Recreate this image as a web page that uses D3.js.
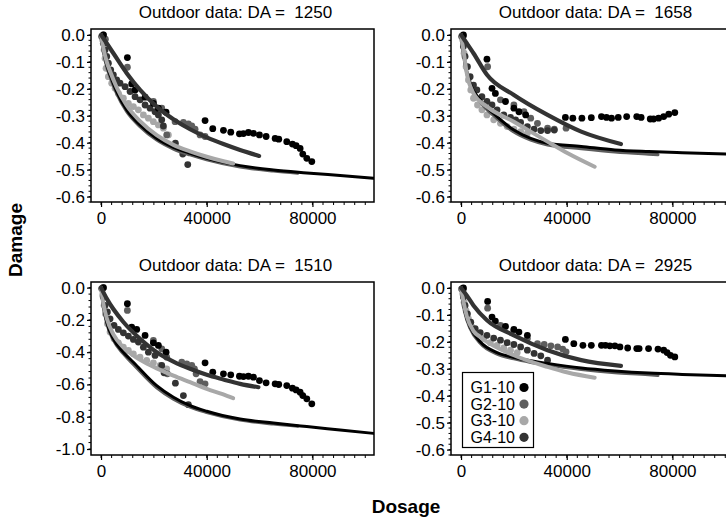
<!DOCTYPE html>
<html><head><meta charset="utf-8">
<script src="https://cdn.jsdelivr.net/npm/d3@7"></script>
<style>
html,body{margin:0;padding:0;background:#fff;}
svg{display:block;font-family:"Liberation Sans",Arial,Helvetica,sans-serif;}
</style></head>
<body>
<svg id="chart" width="726" height="520"></svg>
<script>
// ---------- DATA ----------
const panelDA = ["1250", "1658", "1510", "2925"];
const groups = ["G1-10", "G2-10", "G3-10", "G4-10"];
const groupColors = ["#000000", "#5e5e5e", "#a8a8a8", "#333333"];
const xTickLabels = [0, 40000, 80000];
const yTicksTop = [0.0, -0.1, -0.2, -0.3, -0.4, -0.5, -0.6];
const yTicks1510 = [0.0, -0.2, -0.4, -0.6, -0.8, -1.0];

// ----- DA = 1250 -----
const g1Pts1250 = [[900,0],[9970,-0.084],[11600,-0.182],[12900,-0.204],[16660,-0.231],[19810,-0.254],[21700,-0.272],[24610,-0.287],[39370,-0.318],[42280,-0.348],[46320,-0.354],[49090,-0.361],[52370,-0.367],[53890,-0.366],[55780,-0.362],[57670,-0.365],[59950,-0.371],[62470,-0.377],[65880,-0.384],[67260,-0.387],[70290,-0.396],[72440,-0.405],[73830,-0.411],[75340,-0.421],[76350,-0.442],[77870,-0.458],[79760,-0.470]];
const g2Pts1250 = [[900,0],[1640,-0.016],[9970,-0.12],[19810,-0.247],[22970,-0.272],[28020,-0.322],[31170,-0.325],[33060,-0.33],[34330,-0.338],[35590,-0.35],[37480,-0.371],[39370,-0.377],[24860,-0.371]];
const g3Pts1250 = [[630,-0.019],[1140,-0.056],[1510,-0.087],[1890,-0.124],[2780,-0.155],[4040,-0.179],[5300,-0.198],[6560,-0.217],[8450,-0.235],[10350,-0.254],[12240,-0.266],[14130,-0.278],[16030,-0.297],[17920,-0.309],[19810,-0.322],[21710,-0.334],[23600,-0.346],[25490,-0.371]];
const g4Pts1250 = [[250,-0.006],[880,-0.031],[1510,-0.056],[2150,-0.08],[2780,-0.105],[3660,-0.13],[4670,-0.148],[5930,-0.167],[7190,-0.179],[9090,-0.192],[10980,-0.21],[12870,-0.229],[14760,-0.241],[16660,-0.26],[18550,-0.272],[20440,-0.285],[21710,-0.297],[22970,-0.315],[23600,-0.338],[28140,-0.402],[30920,-0.442],[32810,-0.481]];
const g1Fit1250 = [[0,0],[880,-0.056],[2150,-0.111],[3410,-0.148],[5930,-0.21],[9720,-0.278],[14760,-0.334],[21070,-0.384],[27390,-0.417],[33690,-0.439],[40000,-0.458],[52620,-0.485],[65240,-0.501],[77860,-0.512],[90480,-0.522],[103100,-0.532]];
const g2Fit1250 = [[0,0],[880,-0.06],[2150,-0.118],[3410,-0.155],[5930,-0.218],[9720,-0.285],[14760,-0.34],[21070,-0.39],[27390,-0.423],[33690,-0.445],[40000,-0.463],[52620,-0.49],[65240,-0.505],[74500,-0.513]];
const g3Fit1250 = [[0,0],[880,-0.05],[2150,-0.1],[3410,-0.135],[5930,-0.195],[9720,-0.262],[14760,-0.32],[21070,-0.372],[27390,-0.408],[33690,-0.432],[40000,-0.452],[46000,-0.468],[50000,-0.477]];
const g4Fit1250 = [[0,0],[2150,-0.031],[4670,-0.068],[9720,-0.142],[14760,-0.204],[21070,-0.266],[27390,-0.313],[33690,-0.35],[40000,-0.38],[46310,-0.405],[52620,-0.427],[59820,-0.449]];

// ----- DA = 1658 -----
const g1Pts1658 = [[890,0],[9810,-0.09],[11720,-0.198],[12990,-0.217],[16820,-0.247],[20000,-0.272],[21910,-0.285],[24460,-0.297],[39490,-0.306],[42300,-0.309],[45740,-0.309],[49300,-0.307],[53130,-0.303],[55040,-0.306],[56950,-0.309],[59500,-0.306],[62680,-0.303],[66500,-0.303],[68160,-0.306],[71600,-0.312],[72870,-0.312],[74780,-0.309],[76690,-0.303],[78600,-0.294],[80900,-0.288]];
const g2Pts1658 = [[890,-0.004],[10060,-0.118],[14910,-0.241],[20000,-0.26],[23820,-0.285],[26370,-0.309],[28920,-0.328],[32740,-0.346],[35290,-0.35],[39750,-0.346]];
const g3Pts1658 = [[640,-0.019],[1150,-0.068],[1910,-0.118],[2800,-0.167],[3690,-0.204],[4710,-0.235],[6240,-0.26],[7900,-0.278],[9810,-0.297],[12360,-0.315],[14910,-0.328],[17450,-0.34],[20000,-0.35],[22550,-0.359],[25100,-0.365]];
const g4Pts1658 = [[250,-0.006],[890,-0.043],[1530,-0.08],[2420,-0.118],[3440,-0.155],[4710,-0.186],[5990,-0.204],[7900,-0.229],[9810,-0.247],[11720,-0.26],[13630,-0.278],[16180,-0.297],[18730,-0.306],[20640,-0.315],[22550,-0.325],[25100,-0.34],[27650,-0.35],[30190,-0.355],[32740,-0.355],[35290,-0.353]];
const g1Fit1658 = [[0,0],[640,-0.043],[1530,-0.105],[3440,-0.179],[7260,-0.241],[13630,-0.303],[20000,-0.353],[26370,-0.384],[32740,-0.402],[45480,-0.414],[58220,-0.427],[70960,-0.433],[83700,-0.437],[101500,-0.442]];
const g2Fit1658 = [[0,0],[640,-0.048],[1530,-0.11],[3440,-0.185],[7260,-0.248],[13630,-0.31],[20000,-0.36],[26370,-0.39],[32740,-0.408],[45480,-0.422],[58220,-0.434],[70960,-0.442],[74500,-0.444]];
const g3Fit1658 = [[0,0],[890,-0.056],[2170,-0.142],[4710,-0.217],[9810,-0.266],[20000,-0.322],[32740,-0.396],[40380,-0.439],[50570,-0.489]];
const g4Fit1658 = [[0,0],[2170,-0.031],[4710,-0.068],[9810,-0.148],[20000,-0.223],[32740,-0.297],[45480,-0.359],[60520,-0.405]];

// ----- DA = 1510 -----
const g1Pts1510 = [[880,0],[9970,-0.099],[11610,-0.244],[13500,-0.259],[16660,-0.296],[19810,-0.342],[21710,-0.358],[24610,-0.4],[39370,-0.466],[42280,-0.524],[46320,-0.534],[49090,-0.54],[52370,-0.549],[53890,-0.551],[55780,-0.549],[57670,-0.555],[59950,-0.576],[62470,-0.59],[65880,-0.596],[67260,-0.6],[70290,-0.607],[72440,-0.623],[73830,-0.634],[75340,-0.648],[76350,-0.669],[77870,-0.689],[79760,-0.72]];
const g2Pts1510 = [[880,0],[9970,-0.141],[19810,-0.327],[22970,-0.379],[24860,-0.431],[25110,-0.534],[30540,-0.462],[32430,-0.472],[34330,-0.482],[35340,-0.503],[35970,-0.534],[37480,-0.582],[39370,-0.596]];
const g3Pts1510 = [[630,-0.048],[1140,-0.11],[1640,-0.161],[2400,-0.224],[3410,-0.275],[4920,-0.317],[6560,-0.342],[8450,-0.369],[10350,-0.389],[12240,-0.41],[14760,-0.431],[17290,-0.451],[19810,-0.466],[22340,-0.482],[24860,-0.503]];
const g4Pts1510 = [[250,-0.006],[880,-0.058],[1510,-0.11],[2400,-0.151],[3410,-0.193],[4920,-0.234],[6560,-0.259],[8450,-0.28],[10350,-0.3],[12240,-0.321],[14130,-0.337],[16030,-0.369],[17920,-0.4],[20440,-0.42],[22970,-0.482],[23850,-0.528],[28140,-0.592],[31170,-0.669],[33060,-0.725]];
const g1Fit1510 = [[0,0],[880,-0.11],[2150,-0.213],[4670,-0.317],[8450,-0.4],[12240,-0.462],[21070,-0.607],[27390,-0.679],[33690,-0.731],[40000,-0.766],[52620,-0.814],[65240,-0.839],[77860,-0.861],[90480,-0.882],[103100,-0.903]];
const g2Fit1510 = [[0,0],[880,-0.115],[2150,-0.22],[4670,-0.325],[8450,-0.41],[12240,-0.475],[21070,-0.62],[27390,-0.69],[33690,-0.74],[40000,-0.773],[52620,-0.82],[65240,-0.845],[74500,-0.858]];
const g3Fit1510 = [[0,0],[880,-0.1],[2150,-0.19],[4670,-0.29],[8450,-0.37],[12240,-0.42],[17290,-0.47],[21070,-0.5],[27390,-0.545],[33690,-0.586],[40000,-0.627],[46000,-0.66],[50000,-0.685]];
const g4Fit1510 = [[0,0],[2150,-0.068],[8450,-0.213],[14760,-0.317],[21070,-0.4],[27390,-0.458],[33690,-0.503],[40000,-0.54],[46310,-0.569],[52620,-0.596],[59560,-0.617]];

// ----- DA = 2925 -----
const g1Pts2925 = [[890,0],[10060,-0.05],[11720,-0.108],[12990,-0.123],[16820,-0.143],[20000,-0.154],[21910,-0.164],[25100,-0.176],[39490,-0.191],[42680,-0.207],[46120,-0.213],[49300,-0.213],[53130,-0.213],[54650,-0.213],[56310,-0.215],[58220,-0.215],[60130,-0.219],[63060,-0.223],[66500,-0.225],[67390,-0.225],[70960,-0.225],[74530,-0.227],[76690,-0.231],[77970,-0.24],[79240,-0.25],[80900,-0.256]];
const g2Pts2925 = [[890,-0.004],[10060,-0.075],[14910,-0.139],[20000,-0.157],[25100,-0.188],[28920,-0.207],[31470,-0.21],[34010,-0.215],[36560,-0.219],[38470,-0.227],[39750,-0.237]];
const g3Pts2925 = [[640,-0.022],[1150,-0.053],[1910,-0.084],[2800,-0.114],[4080,-0.145],[5990,-0.17],[8540,-0.188],[11080,-0.203],[13630,-0.213],[16180,-0.223],[18730,-0.231],[21270,-0.24]];
const g4Pts2925 = [[250,-0.004],[890,-0.034],[1530,-0.065],[2420,-0.096],[3690,-0.127],[5350,-0.151],[7260,-0.166],[9810,-0.176],[12360,-0.186],[14910,-0.194],[17450,-0.203],[20000,-0.21],[22550,-0.219],[25100,-0.231],[27650,-0.243],[30190,-0.252],[32740,-0.268]];
const g1Fit2925 = [[0,0],[640,-0.045],[1530,-0.09],[3440,-0.145],[7260,-0.2],[13630,-0.24],[20000,-0.258],[26370,-0.27],[32740,-0.28],[45480,-0.297],[58220,-0.308],[70960,-0.316],[83700,-0.321],[101500,-0.326]];
const g2Fit2925 = [[0,0],[640,-0.048],[1530,-0.095],[3440,-0.15],[7260,-0.205],[13630,-0.245],[20000,-0.263],[26370,-0.276],[32740,-0.286],[45480,-0.302],[58220,-0.314],[70960,-0.322],[74500,-0.325]];
const g3Fit2925 = [[0,0],[890,-0.05],[2170,-0.105],[4710,-0.16],[7260,-0.182],[20000,-0.25],[32740,-0.293],[40380,-0.314],[50570,-0.333]];
const g4Fit2925 = [[0,0],[2170,-0.028],[4710,-0.065],[9810,-0.12],[20000,-0.176],[32740,-0.231],[45480,-0.268],[60520,-0.289]];

const pointsByPanel = {
  "1250": [g1Pts1250, g2Pts1250, g3Pts1250, g4Pts1250],
  "1658": [g1Pts1658, g2Pts1658, g3Pts1658, g4Pts1658],
  "1510": [g1Pts1510, g2Pts1510, g3Pts1510, g4Pts1510],
  "2925": [g1Pts2925, g2Pts2925, g3Pts2925, g4Pts2925]
};
const fitsByPanel = {
  "1250": [g1Fit1250, g2Fit1250, g3Fit1250, g4Fit1250],
  "1658": [g1Fit1658, g2Fit1658, g3Fit1658, g4Fit1658],
  "1510": [g1Fit1510, g2Fit1510, g3Fit1510, g4Fit1510],
  "2925": [g1Fit2925, g2Fit2925, g3Fit2925, g4Fit2925]
};

// ---------- LAYOUT ----------
const svg = d3.select("#chart");
const boxW = 283, boxH = 173;
const layout = {
  "1250": {left: 91,  top: 29,  yDomain: [-0.62, 0.022], ticks: yTicksTop,  minorStep: 0.02},
  "1658": {left: 451, top: 29,  yDomain: [-0.62, 0.022], ticks: yTicksTop,  minorStep: 0.02},
  "1510": {left: 91,  top: 282, yDomain: [-1.037, 0.035], ticks: yTicks1510, minorStep: 0.04},
  "2925": {left: 451, top: 282, yDomain: [-0.62, 0.022], ticks: yTicksTop,  minorStep: 0.02}
};
const xDomain = [-3800, 103300];

// draw order of groups: light, medium, dark, black
const ptOrder = [2, 1, 3, 0];
const fitOrder = [1, 0, 2, 3];
const fitWidth = [3, 3.2, 4, 4.2];

panelDA.forEach((da, pi) => {
  const L = layout[da];
  const g = svg.append("g").attr("transform", `translate(${L.left},${L.top})`);
  const x = d3.scaleLinear().domain(xDomain).range([0, boxW]);
  const y = d3.scaleLinear().domain(L.yDomain).range([boxH, 0]);

  const clipId = "clip" + pi;
  g.append("clipPath").attr("id", clipId).append("rect")
    .attr("x", 0).attr("y", 0).attr("width", boxW).attr("height", boxH);

  const plot = g.append("g").attr("clip-path", `url(#${clipId})`);

  // points
  ptOrder.forEach(gi => {
    plot.append("g").selectAll("circle").data(pointsByPanel[da][gi]).join("circle")
      .attr("cx", d => x(d[0])).attr("cy", d => y(d[1])).attr("r", 3.4)
      .attr("fill", groupColors[gi]);
  });
  // fitted curves
  const line = d3.line().x(d => x(d[0])).y(d => y(d[1])).curve(d3.curveMonotoneX);
  fitOrder.forEach(gi => {
    plot.append("path").datum(fitsByPanel[da][gi]).attr("d", line)
      .attr("fill", "none").attr("stroke", groupColors[gi])
      .attr("stroke-width", fitWidth[gi]).attr("stroke-linecap", "round");
  });

  // box
  g.append("rect").attr("x", 0).attr("y", 0).attr("width", boxW).attr("height", boxH)
    .attr("fill", "none").attr("stroke", "#000").attr("stroke-width", 1.5);

  // y axis
  const yAxis = d3.axisLeft(y).tickValues(L.ticks).tickFormat(d3.format(".1f")).tickSize(4).tickPadding(2);
  const ya = g.append("g").call(yAxis);
  ya.select(".domain").remove();
  ya.selectAll("text").attr("font-size", 17).attr("fill", "#000")
    .text(d => d3.format(".1f")(d).replace("−", "-"));
  ya.selectAll("line").attr("stroke-width", 1.2);
  const yMinor = d3.range(Math.round(L.yDomain[0] / L.minorStep), 1).map(k => k * L.minorStep)
    .filter(v => v >= L.yDomain[0]);
  g.append("g").selectAll("line").data(yMinor).join("line")
    .attr("x1", -2.5).attr("x2", 0).attr("y1", d => y(d)).attr("y2", d => y(d))
    .attr("stroke", "#000").attr("stroke-width", 1);

  // x axis
  const xa = g.append("g").attr("transform", `translate(0,${boxH})`)
    .call(d3.axisBottom(x).tickValues(xTickLabels).tickFormat(d3.format("d")).tickSize(5).tickPadding(5));
  xa.select(".domain").remove();
  xa.selectAll("text").attr("font-size", 17).attr("fill", "#000");
  xa.selectAll("line").attr("stroke-width", 1.2);
  const xMinor = d3.range(0, 104000, 4000);
  g.append("g").selectAll("line").data(xMinor).join("line")
    .attr("x1", d => x(d)).attr("x2", d => x(d)).attr("y1", boxH).attr("y2", boxH + 3)
    .attr("stroke", "#000").attr("stroke-width", 1);

  // title
  g.append("text").attr("x", boxW / 2 + 3).attr("y", -11)
    .attr("text-anchor", "middle").attr("font-size", 17).attr("fill", "#000")
    .style("white-space", "pre")
    .text("Outdoor data: DA =  " + da);

  // legend in last panel
  if (da === "2925") {
    const lg = g.append("g").attr("transform", `translate(${462.5 - L.left},${372.5 - L.top})`);
    lg.append("rect").attr("width", 71).attr("height", 75).attr("fill", "#fff")
      .attr("stroke", "#000").attr("stroke-width", 1.2);
    groups.forEach((name, i) => {
      lg.append("text").attr("x", 8).attr("y", 20.5 + i * 16.6).attr("font-size", 16)
        .attr("fill", "#000").text(name);
      lg.append("circle").attr("cx", 61.5).attr("cy", 15 + i * 16.6).attr("r", 4.6)
        .attr("fill", groupColors[i]);
    });
  }
});

// axis titles
svg.append("text").attr("transform", "translate(22,240) rotate(-90)")
  .attr("text-anchor", "middle").attr("font-size", 19).attr("font-weight", "bold")
  .attr("fill", "#000").text("Damage");
svg.append("text").attr("x", 406).attr("y", 513)
  .attr("text-anchor", "middle").attr("font-size", 19).attr("font-weight", "bold")
  .attr("fill", "#000").text("Dosage");
</script>
</body></html>
